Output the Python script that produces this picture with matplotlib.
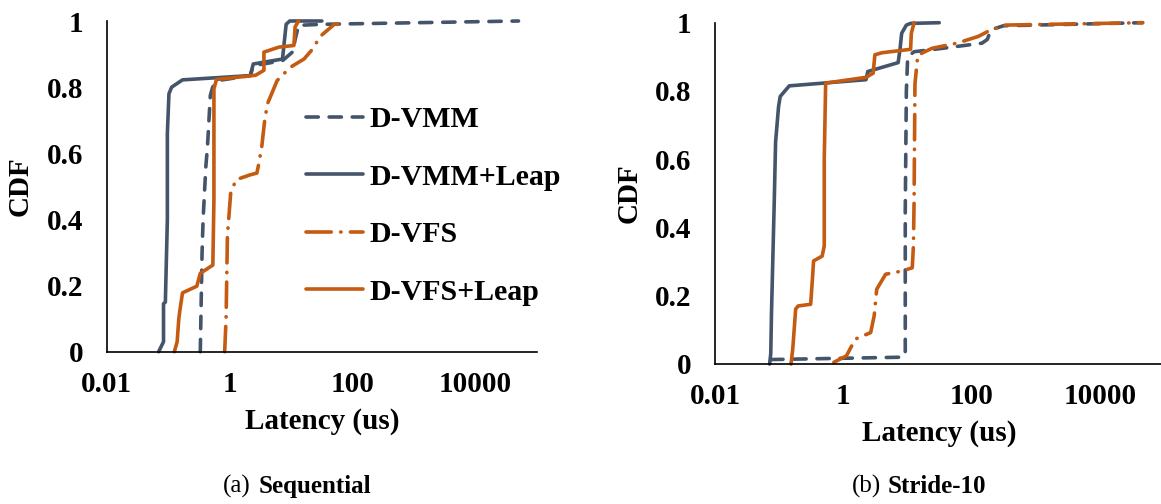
import matplotlib
matplotlib.use("Agg")
import matplotlib.pyplot as plt
from matplotlib.ticker import FixedLocator, FixedFormatter

# Sequential panel: latency (us) and CDF for each series
seq_vmm_lat = [0.333, 0.356, 0.37, 0.41, 0.436, 0.485, 0.53, 0.65, 2.17, 2.42, 7.24, 11.1, 11.5, 13.2, 31.6, 50000]
seq_vmm_cdf = [0.0, 0.30, 0.40, 0.56, 0.62, 0.775, 0.80, 0.82, 0.835, 0.865, 0.88, 0.91, 0.94, 0.987, 0.99, 1.0]

seq_vmm_leap_lat = [0.070, 0.084, 0.084, 0.090, 0.097, 0.097, 0.103, 0.114, 0.171, 2.17, 2.42, 7.24, 8.3, 9.5, 31.6]
seq_vmm_leap_cdf = [0.0, 0.03, 0.145, 0.15, 0.40, 0.66, 0.78, 0.80, 0.822, 0.835, 0.87, 0.885, 0.99, 1.0, 1.0]

seq_vfs_lat = [0.83, 0.875, 0.92, 1.04, 1.27, 2.17, 2.77, 2.92, 3.33, 3.72, 4.13, 5.93, 9.7, 16.2, 21.2, 30.4, 50.5, 57.5]
seq_vfs_cdf = [0.0, 0.1, 0.35, 0.48, 0.52, 0.535, 0.54, 0.56, 0.62, 0.70, 0.75, 0.82, 0.86, 0.885, 0.91, 0.955, 0.99, 0.99]

seq_vfs_leap_lat = [0.126, 0.14, 0.149, 0.155, 0.171, 0.292, 0.333, 0.533, 0.555, 0.555, 0.61, 2.65, 3.61, 3.61, 6.34, 11.1, 11.6, 13.2]
seq_vfs_leap_cdf = [0.0, 0.03, 0.1, 0.125, 0.178, 0.198, 0.237, 0.262, 0.46, 0.795, 0.823, 0.836, 0.851, 0.906, 0.921, 0.926, 0.982, 1.0]

# Stride-10 panel
str_vmm_lat = [0.074, 8.67, 9.25, 9.25, 9.62, 10.1, 12.7, 35.5, 145.5, 176, 200, 314, 46400]
str_vmm_cdf = [0.013, 0.02, 0.034, 0.45, 0.80, 0.90, 0.915, 0.925, 0.94, 0.951, 0.979, 0.991, 1.0]

str_vmm_leap_lat = [0.071, 0.074, 0.076, 0.084, 0.088, 0.098, 0.104, 0.144, 2.26, 2.41, 7.16, 7.64, 8.13, 9.62, 11.2, 31.3]
str_vmm_leap_cdf = [0.0, 0.03, 0.15, 0.48, 0.65, 0.755, 0.784, 0.815, 0.833, 0.857, 0.883, 0.92, 0.969, 0.993, 0.998, 1.0]

str_vfs_lat = [0.713, 1.12, 1.54, 2.67, 3.03, 3.32, 4.57, 8.45, 11.9, 12.4, 12.7, 13.1, 14.5, 24.2, 59.3, 128, 200, 334, 46400]
str_vfs_cdf = [0.005, 0.024, 0.073, 0.092, 0.141, 0.219, 0.263, 0.273, 0.282, 0.346, 0.48, 0.82, 0.905, 0.925, 0.94, 0.96, 0.979, 0.993, 1.0]

str_vfs_leap_lat = [0.153, 0.163, 0.181, 0.198, 0.31, 0.33, 0.344, 0.468, 0.505, 0.505, 0.531, 2.26, 2.92, 3.11, 4.02, 11.2, 11.5, 12.7]
str_vfs_leap_cdf = [0.0, 0.044, 0.161, 0.17, 0.175, 0.248, 0.302, 0.316, 0.346, 0.6, 0.823, 0.84, 0.852, 0.906, 0.912, 0.922, 0.969, 1.0]

series_names = ["D-VMM", "D-VMM+Leap", "D-VFS", "D-VFS+Leap"]
x_ticks = [0.01, 1, 100, 10000]
x_tick_labels = ["0.01", "1", "100", "10000"]
y_ticks = [0, 0.2, 0.4, 0.6, 0.8, 1]
y_tick_labels = ["0", "0.2", "0.4", "0.6", "0.8", "1"]

GRAY = "#44546A"
ORANGE = "#C55A11"
LW = 2.6
FONT = "Liberation Serif"

plt.rcParams["font.family"] = [FONT, "DejaVu Serif"]
plt.rcParams["font.weight"] = "bold"

fig = plt.figure(figsize=(11.61, 5.04), dpi=100)
W, H = 1161.0, 504.0


def make_axes(x0, x1, y0, y1):
    # pixel box -> figure fraction
    return fig.add_axes([x0 / W, 1 - y0 / H, (x1 - x0) / W, (y0 - y1) / H])


def style_axes(ax):
    ax.set_xscale("log")
    ax.set_xlim(0.01, 1e5)
    ax.set_ylim(0, 1)
    ax.xaxis.set_major_locator(FixedLocator(x_ticks))
    ax.xaxis.set_major_formatter(FixedFormatter(x_tick_labels))
    ax.xaxis.set_minor_locator(FixedLocator([]))
    ax.set_yticks(y_ticks)
    ax.set_yticklabels(y_tick_labels)
    ax.tick_params(axis="x", length=0, pad=14, labelsize=21)
    ax.tick_params(axis="y", length=0, pad=17, labelsize=21)
    for lab in ax.get_xticklabels() + ax.get_yticklabels():
        lab.set_fontweight("bold")
    for side in ["top", "right"]:
        ax.spines[side].set_visible(False)
    for side in ["left", "bottom"]:
        ax.spines[side].set_linewidth(1.2)
        ax.spines[side].set_color("black")
    ax.set_xlabel("Latency (us)", fontsize=21, fontweight="bold", labelpad=7)
    ax.set_ylabel("CDF", fontsize=21, fontweight="bold", labelpad=9)


def draw(ax, vmm, vmm_leap, vfs, vfs_leap):
    lines = []
    (l,) = ax.plot(vmm[0], vmm[1], color=GRAY, lw=LW, dashes=(3.4, 3.0),
                   dash_capstyle="round", clip_on=False)
    lines.append(l)
    (l,) = ax.plot(vmm_leap[0], vmm_leap[1], color=GRAY, lw=LW,
                   solid_capstyle="round", clip_on=False)
    lines.append(l)
    (l,) = ax.plot(vfs[0], vfs[1], color=ORANGE, lw=LW, dashes=(7, 2.6, 0.1, 2.6),
                   dash_capstyle="round", clip_on=False)
    lines.append(l)
    (l,) = ax.plot(vfs_leap[0], vfs_leap[1], color=ORANGE, lw=LW,
                   solid_capstyle="round", clip_on=False)
    lines.append(l)
    return lines


ax1 = make_axes(106.7, 537, 351.7, 21)
style_axes(ax1)
handles = draw(ax1,
               (seq_vmm_lat, seq_vmm_cdf),
               (seq_vmm_leap_lat, seq_vmm_leap_cdf),
               (seq_vfs_lat, seq_vfs_cdf),
               (seq_vfs_leap_lat, seq_vfs_leap_cdf))
ax1.legend(handles, series_names, loc="upper left",
           bbox_to_anchor=(0.463, 0.742), frameon=False, borderpad=0,
           borderaxespad=0, handlelength=1.92, handletextpad=0.2,
           labelspacing=1.02, prop={"family": FONT, "weight": "bold", "size": 21.5})

ax2 = make_axes(715, 1164, 364, 22.7)
style_axes(ax2)
draw(ax2,
     (str_vmm_lat, str_vmm_cdf),
     (str_vmm_leap_lat, str_vmm_leap_cdf),
     (str_vfs_lat, str_vfs_cdf),
     (str_vfs_leap_lat, str_vfs_leap_cdf))

# sub-figure captions
cap_y = 1 - 493 / H
fig.text(251 / W, cap_y, "(a)", ha="right", va="baseline", fontsize=18, fontweight="normal")
fig.text(259 / W, cap_y, "Sequential", ha="left", va="baseline", fontsize=18, fontweight="bold")
fig.text(881 / W, cap_y, "(b)", ha="right", va="baseline", fontsize=18, fontweight="normal")
fig.text(888 / W, cap_y, "Stride-10", ha="left", va="baseline", fontsize=18, fontweight="bold")

fig.savefig("out.png", dpi=100)
